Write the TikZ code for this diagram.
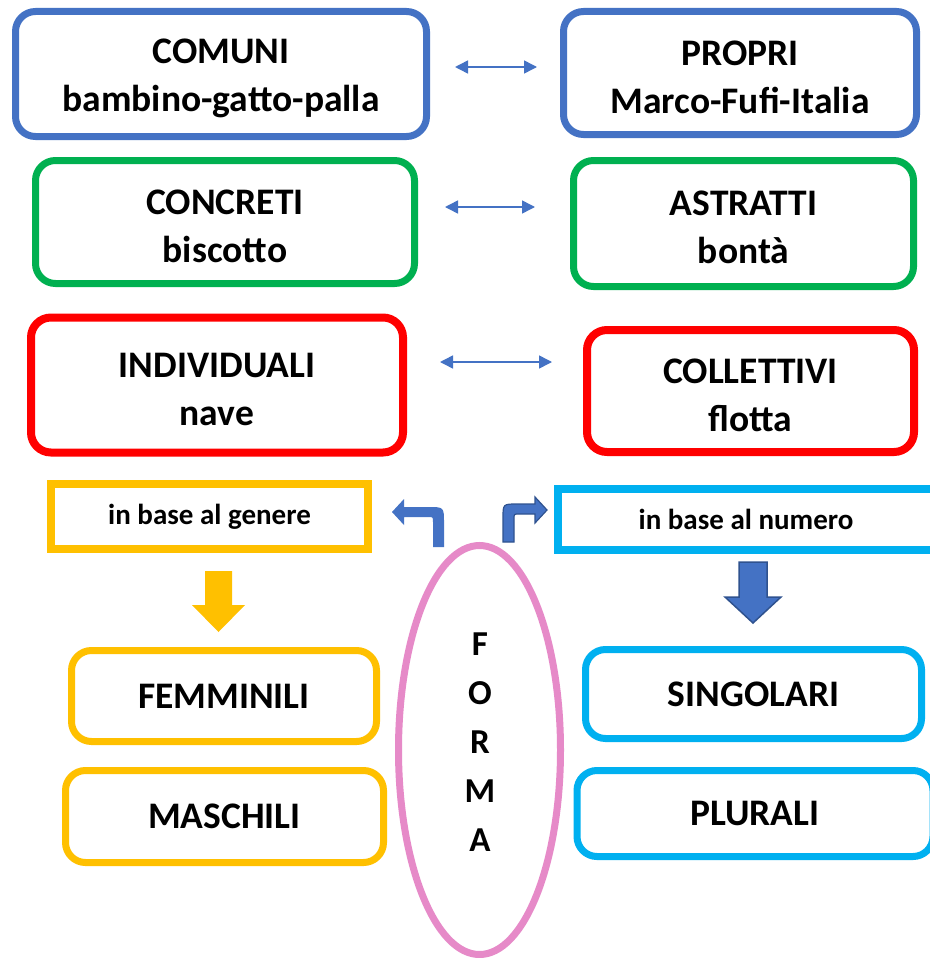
\documentclass[tikz,border=0pt]{standalone}
\usepackage{fontspec}
\setmainfont{Carlito}
\usetikzlibrary{arrows.meta}
\definecolor{cblue}{HTML}{4472C4}
\definecolor{cdblue}{HTML}{2F528F}
\definecolor{cgreen}{HTML}{00B050}
\definecolor{cred}{HTML}{FF0000}
\definecolor{cyellow}{HTML}{FFC000}
\definecolor{ccyan}{HTML}{00B0F0}
\definecolor{cpink}{HTML}{E68AC8}
\newcommand{\tstrut}{\rule{0pt}{33pt}}
\tikzset{
  rbox/.style={draw, rounded corners=20pt, line width=7pt, inner sep=0pt, align=center,
    font=\fontsize{37.5}{48}\selectfont\bfseries},
  sbox/.style={draw, line width=7.5pt, inner sep=0pt, align=center,
    font=\fontsize{29}{32}\selectfont\bfseries},
  dbl/.style={cblue, line width=1.5pt, {Triangle[length=13pt,width=13pt]}-{Triangle[length=13pt,width=13pt]}},
}
\begin{document}
\begin{tikzpicture}[x=1pt,y=-1pt]
\useasboundingbox (0,0) rectangle (929,958);
\fill[white] (0,0) rectangle (929,958);
% row 1
\node[rbox, cblue, text=black, minimum width=411pt, minimum height=125pt] (comuni) at (221,74) {\tstrut COMUNI\\bambino-gatto-palla};
\node[rbox, cblue, text=black, minimum width=353pt, minimum height=123pt] (propri) at (740,73) {\tstrut PROPRI\\Marco-Fufi-Italia};
% row 2
\node[rbox, cgreen, text=black, minimum width=379pt, minimum height=123pt] (concreti) at (225,222) {\tstrut CONCRETI\\biscotto};
\node[rbox, cgreen, text=black, minimum width=340pt, minimum height=126pt] (astratti) at (743.5,223.5) {\tstrut ASTRATTI\\bontà};
% row 3
\node[rbox, cred, text=black, line width=8pt, minimum width=372pt, minimum height=135pt] (indiv) at (217,385) {\tstrut INDIVIDUALI\\nave};
\node[rbox, cred, text=black, line width=8pt, minimum width=327pt, minimum height=122pt] (coll) at (750.5,391) {\tstrut COLLETTIVI\\flotta};
% double arrows
\coordinate (a1l) at (455,67); \coordinate (a1r) at (537,67);
\coordinate (a2l) at (445,207); \coordinate (a2r) at (535,207);
\coordinate (a3l) at (440,362); \coordinate (a3r) at (552,362);
\draw[dbl] (a1l) -- (a1r);
\draw[dbl] (a2l) -- (a2r);
\draw[dbl] (a3l) -- (a3r);
% category boxes
\node[sbox, cyellow, text=black, minimum width=317pt, minimum height=65pt] (genere) at (209.5,516.5) {in base al genere};
\node[sbox, ccyan, text=black, minimum width=376pt, minimum height=61pt] (numero) at (746,519.5) {in base al numero};
\node[rbox, cyellow, text=black, minimum width=305pt, minimum height=91pt] (femm) at (224,696) {FEMMINILI};
\node[rbox, cyellow, text=black, minimum width=318pt, minimum height=92pt] (masc) at (224.5,816.5) {MASCHILI};
\node[rbox, ccyan, text=black, minimum width=336pt, minimum height=89pt] (sing) at (753.5,694) {SINGOLARI};
\node[rbox, ccyan, text=black, minimum width=356pt, minimum height=86pt] (plur) at (755,813.5) {PLURALI};
% ellipse
\draw[cpink, line width=7pt] (479.5,750) ellipse [x radius=81pt, y radius=204.5pt];
\node[align=center, inner sep=0pt, font=\fontsize{35}{49}\selectfont\bfseries] (forma) at (480,742) {F\\O\\R\\M\\A};
% down arrows
\fill[cyellow] (205,571) -- (232,571) -- (232,605) -- (245,605) -- (218.5,632) -- (192,605) -- (205,605) -- cycle;
\filldraw[fill=cblue, draw=cdblue, line width=1.5pt] (739,562) -- (767,562) -- (767,597) -- (781,597) -- (753,623) -- (725,597) -- (739,597) -- cycle;
% bent arrows
\fill[cblue] (444,547) -- (444,523) .. controls (444,507) .. (428,507) -- (404,507) -- (404,499) -- (392,512) -- (404,525) -- (404,517) -- (428,517) .. controls (433,517) .. (433,522) -- (433,547) -- cycle;
\filldraw[fill=cblue, draw=cdblue, line width=1.2pt] (503,542) -- (503,518) .. controls (503,504) .. (517,504) -- (535,504) -- (535,497) -- (547,510) -- (535,523) -- (535,514) -- (519,514) .. controls (514,514) .. (514,519) -- (514,542) -- cycle;
\end{tikzpicture}
\end{document}
